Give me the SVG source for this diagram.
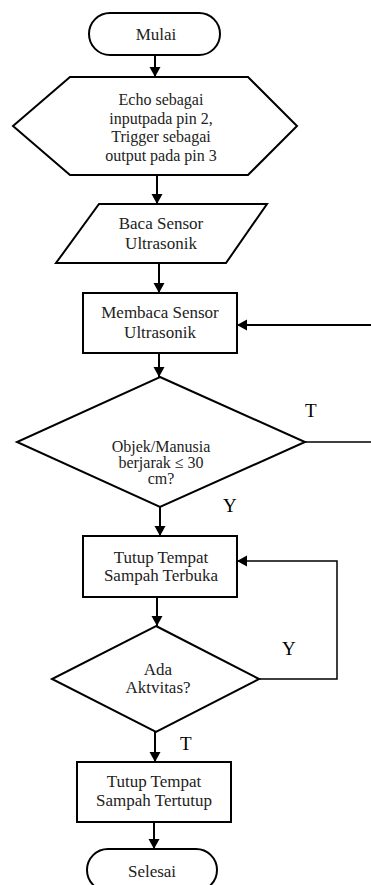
<svg xmlns="http://www.w3.org/2000/svg" width="371" height="885" viewBox="0 0 371 885">
  <style>
    .shape { fill: #fff; stroke: #000; stroke-width: 2; }
    .txt { font-family: "Liberation Serif", "Times New Roman", serif; font-size: 17px; text-anchor: middle; fill: #222; }
    .small { font-size: 16px; }
    .tag { font-family: "Liberation Serif", "Times New Roman", serif; font-size: 19px; fill: #000; }
    .line { fill: none; stroke: #000; stroke-width: 2; }
    .thin { stroke-width: 1.5; }
  </style>
  <defs>
    <marker id="arrow" markerUnits="userSpaceOnUse" markerWidth="10" markerHeight="12" refX="10" refY="6" orient="auto">
      <path d="M0,0.5 L10,6 L0,11.5 Z" fill="#000"/>
    </marker>
  </defs>

  <rect width="371" height="885" fill="#fff"/>

  <!-- connectors -->
  <g id="connectors">
    <path class="line" d="M155,55 V77" marker-end="url(#arrow)"/>
    <path class="line" d="M157,175 V204" marker-end="url(#arrow)"/>
    <path class="line" d="M159,263 V293" marker-end="url(#arrow)"/>
    <path class="line" d="M371,325 H237" marker-end="url(#arrow)"/>
    <path class="line" d="M159,353 V377" marker-end="url(#arrow)"/>
    <path class="line thin" d="M305,442 H371"/>
    <path class="line" d="M160,507 V536" marker-end="url(#arrow)"/>
    <path class="line thin" d="M258,679 H337 V561 H237" marker-end="url(#arrow)"/>
    <path class="line" d="M157,597 V626" marker-end="url(#arrow)"/>
    <path class="line" d="M155,732 V762" marker-end="url(#arrow)"/>
    <path class="line" d="M154,822 V849" marker-end="url(#arrow)"/>
    <text class="tag" x="305" y="417">T</text>
    <text class="tag" x="223" y="512">Y</text>
    <text class="tag" x="282" y="655">Y</text>
    <text class="tag" x="180" y="750">T</text>
  </g>

  <!-- start -->
  <g id="mulai">
    <rect class="shape" x="89" y="13" width="131" height="42" rx="21" ry="21"/>
    <text class="txt" x="156" y="40">Mulai</text>
  </g>

  <!-- pin setup -->
  <g id="setup">
    <polygon class="shape" points="70,77 248,77 297,126 248,175 70,175 13,126"/>
    <text class="txt small" x="161" y="105">Echo sebagai</text>
    <text class="txt small" x="161" y="123.5">inputpada pin 2,</text>
    <text class="txt small" x="161" y="142">Trigger sebagai</text>
    <text class="txt small" x="161" y="160.5">output pada pin 3</text>
  </g>

  <!-- sensor input -->
  <g id="baca">
    <polygon class="shape" points="99,204 267,204 226,263 56,263"/>
    <text class="txt" x="161" y="229">Baca Sensor</text>
    <text class="txt" x="161" y="249">Ultrasonik</text>
  </g>

  <!-- read sensor -->
  <g id="membaca">
    <rect class="shape" x="83" y="293" width="154" height="60"/>
    <text class="txt" x="160" y="318">Membaca Sensor</text>
    <text class="txt" x="160" y="338">Ultrasonik</text>
  </g>

  <!-- distance check -->
  <g id="jarak">
    <polygon class="shape" points="160,377 305,442 160,507 17,442"/>
    <text class="txt small" x="161" y="452">Objek/Manusia</text>
    <text class="txt small" x="161" y="468">berjarak ≤ 30</text>
    <text class="txt small" x="161" y="484">cm?</text>
  </g>

  <!-- lid open -->
  <g id="terbuka">
    <rect class="shape" x="83" y="536" width="154" height="61"/>
    <text class="txt" x="161" y="563">Tutup Tempat</text>
    <text class="txt" x="161" y="581">Sampah Terbuka</text>
  </g>

  <!-- activity check -->
  <g id="aktivitas">
    <polygon class="shape" points="156,626 259,679 156,732 52,679"/>
    <text class="txt" x="158" y="675">Ada</text>
    <text class="txt" x="158" y="693">Aktvitas?</text>
  </g>

  <!-- lid closed -->
  <g id="tertutup">
    <rect class="shape" x="77" y="762" width="154" height="60"/>
    <text class="txt" x="154" y="787">Tutup Tempat</text>
    <text class="txt" x="154" y="806">Sampah Tertutup</text>
  </g>

  <!-- end -->
  <g id="selesai">
    <rect class="shape" x="87" y="849" width="130" height="42" rx="21" ry="21"/>
    <text class="txt" x="152" y="877">Selesai</text>
  </g>
</svg>
